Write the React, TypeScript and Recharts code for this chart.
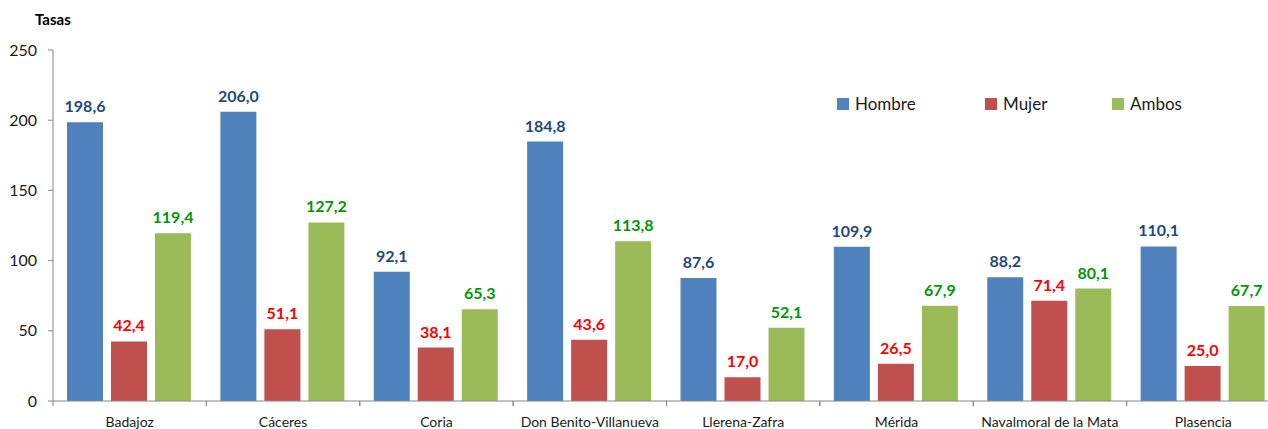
import { Bar, BarChart, LabelList, XAxis, YAxis } from "recharts"

const categories = [
  "Badajoz",
  "Cáceres",
  "Coria",
  "Don Benito-Villanueva",
  "Llerena-Zafra",
  "Mérida",
  "Navalmoral de la Mata",
  "Plasencia",
]
const hombre = [198.6, 206.0, 92.1, 184.8, 87.6, 109.9, 88.2, 110.1]
const mujer = [42.4, 51.1, 38.1, 43.6, 17.0, 26.5, 71.4, 25.0]
const ambos = [119.4, 127.2, 65.3, 113.8, 52.1, 67.9, 80.1, 67.7]
const yTicks = [0, 50, 100, 150, 200, 250]

const series = [
  { key: "hombre", name: "Hombre", fill: "#4F81BD", label: "#1F497D" },
  { key: "mujer", name: "Mujer", fill: "#C0504D", label: "#FF0000" },
  { key: "ambos", name: "Ambos", fill: "#9BBB59", label: "#00960A" },
]

const data = categories.map((name, i) => ({
  name,
  hombre: hombre[i],
  mujer: mujer[i],
  ambos: ambos[i],
}))

const font = "Lato, 'Open Sans', sans-serif"
const fmt = (v: any) => Number(v).toFixed(1).replace(".", ",")

function CategoryTick(props: any) {
  const { x, y, payload } = props
  const half = payload.offset || 0
  return (
    <g>
      <line x1={x - half} x2={x - half} y1={y} y2={y + 5} stroke="#868686" />
      <line x1={x + half} x2={x + half} y1={y} y2={y + 5} stroke="#868686" />
      <text x={x} y={y + 26} textAnchor="middle" fontSize={14} fill="#1a1a1a" fontFamily={font}>
        {payload.value}
      </text>
    </g>
  )
}

// legend drawn as html on top of the chart so it takes no room from the plot
const legendWidths = [148, 127, 120]

function LegendBox() {
  return (
    <div style={{ position: "absolute", left: 837, top: 93, display: "flex", fontFamily: font, fontSize: 17, color: "#1a1a1a" }}>
      {series.map((s, i) => (
        <div key={s.key} style={{ display: "flex", alignItems: "center", width: legendWidths[i] }}>
          <span style={{ width: 12, height: 12, background: s.fill, marginRight: 6, display: "inline-block" }} />
          {s.name}
        </div>
      ))}
    </div>
  )
}

export default function App() {
  return (
    <div style={{ position: "absolute", left: 0, top: 0, width: 1268, height: 429, overflow: "hidden", background: "#fff" }}>
      <BarChart
        width={1282}
        height={429}
        data={data}
        margin={{ top: 50, right: 2, bottom: 0, left: 0 }}
        barCategoryGap={14}
        barGap={8}
      >
        <XAxis
          dataKey="name"
          height={28}
          tickLine={false}
          tickSize={0}
          tickMargin={0}
          stroke="#868686"
          interval={0}
          tick={<CategoryTick />}
        />
        <YAxis
          width={53}
          domain={[0, 250]}
          ticks={yTicks}
          tickSize={5}
          tickMargin={11}
          stroke="#868686"
          tick={{ fill: "#1a1a1a", fontSize: 16, fontFamily: font }}
        />
        {series.map((s) => (
          <Bar key={s.key} dataKey={s.key} name={s.name} fill={s.fill} isAnimationActive={false}>
            <LabelList
              dataKey={s.key}
              position="top"
              offset={10}
              formatter={fmt}
              fill={s.label}
              fontSize={16}
              fontWeight={700}
              fontFamily={font}
            />
          </Bar>
        ))}
      </BarChart>
      <div style={{ position: "absolute", left: 35, top: 10, fontFamily: font, fontWeight: 700, fontSize: 15, color: "#000" }}>
        Tasas
      </div>
      <LegendBox />
    </div>
  )
}
